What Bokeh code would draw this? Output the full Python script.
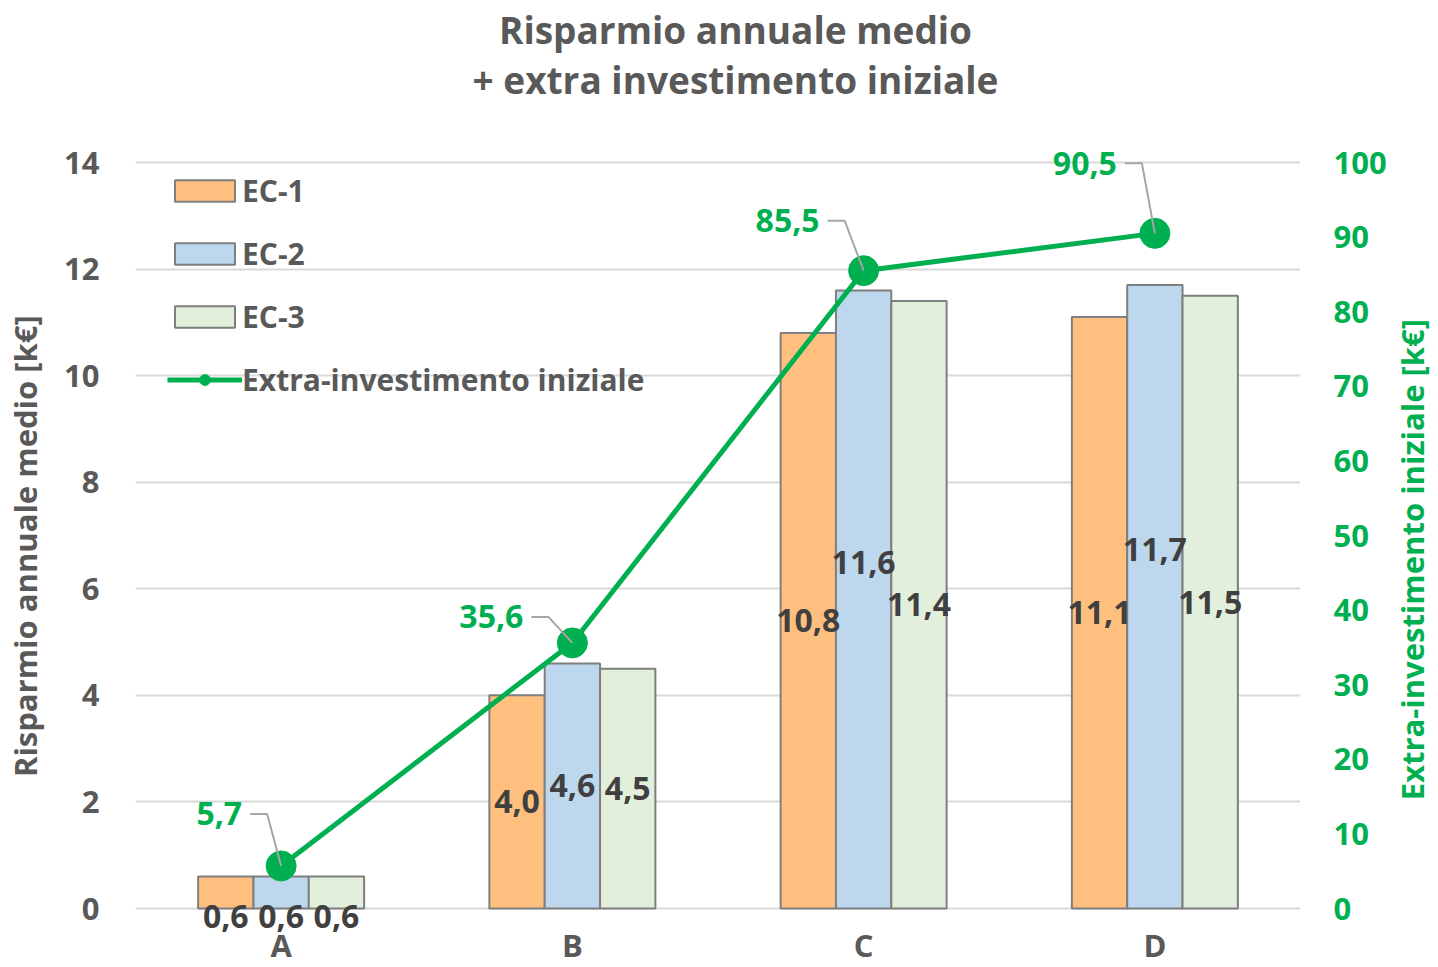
import math
from bokeh.plotting import figure
from bokeh.models import (Range1d, LinearAxis, FixedTicker, Legend, LegendItem,
                          Label, LabelSet, ColumnDataSource)
from bokeh.core.properties import value
from bokeh.embed import file_html
from bokeh.resources import INLINE

# ---------------- data ----------------
categories = ["A", "B", "C", "D"]
series_names = ["EC-1", "EC-2", "EC-3"]
ec1 = [0.6, 4.0, 10.8, 11.1]
ec2 = [0.6, 4.6, 11.6, 11.7]
ec3 = [0.6, 4.5, 11.4, 11.5]
extra = [5.7, 35.6, 85.5, 90.5]
line_name = "Extra-investimento iniziale"
left_ticks = [0, 2, 4, 6, 8, 10, 12, 14]
right_ticks = [0, 10, 20, 30, 40, 50, 60, 70, 80, 90, 100]
title_lines = ["Risparmio annuale medio", "+ extra investimento iniziale"]
left_title = "Risparmio annuale medio [k€]"
right_title = "Extra-investimento iniziale [k€]"

# ---------------- style / layout ----------------
FONT = "Open Sans"
GRAY = "#595959"
DARK = "#404040"
GREEN = "#00B050"
bar_colors = ["#FFBF7F", "#BDD7EE", "#E2EFDA"]
OUTLINE = "#7F7F7F"

W, H = 1438, 966
PLOT_L, PLOT_R = 135, 1300        # value area, page px
PLOT_T, PLOT_B = 162, 908
LEFT_MAX, RIGHT_MAX = 14.0, 100.0
FW = PLOT_R - PLOT_L
PXU = (PLOT_B - PLOT_T) / LEFT_MAX           # px per left unit
RATIO = RIGHT_MAX / LEFT_MAX                 # right units per left unit
X_MAX = float(len(categories))
PXX = FW / X_MAX


def px2x(px):
    return (px - PLOT_L) / PXX


def py2yl(py):
    return (PLOT_B - py) / PXU


def fmt(v):
    return f"{v:.1f}".replace(".", ",")


y_lo, y_hi = py2yl(H), py2yl(0)
p = figure(frame_width=FW, frame_height=H,
           x_range=Range1d(0, X_MAX), y_range=Range1d(y_lo, y_hi),
           output_backend="svg", toolbar_location=None,
           min_border=0, min_border_left=PLOT_L, min_border_top=0,
           min_border_right=W - PLOT_R, min_border_bottom=0)
p.extra_y_ranges = {"right": Range1d(y_lo * RATIO, y_hi * RATIO)}
p.outline_line_color = None
p.background_fill_color = "white"
p.border_fill_color = "white"

# grid
p.xgrid.grid_line_color = None
p.ygrid.ticker = FixedTicker(ticks=left_ticks)
p.ygrid.grid_line_color = "#D9D9D9"
p.ygrid.grid_line_width = 2


def style_axis(ax, color, size, standoff):
    ax.axis_line_color = None
    ax.major_tick_line_color = None
    ax.minor_tick_line_color = None
    ax.major_label_text_font = FONT
    ax.major_label_text_font_size = size
    ax.major_label_text_font_style = "bold"
    ax.major_label_text_color = color
    ax.major_label_standoff = standoff


# axes
p.xaxis.visible = False
ya = p.yaxis[0]
ya.ticker = FixedTicker(ticks=left_ticks)
style_axis(ya, GRAY, "31px", 30)

# left axis title: tick-less axis whose single label is the title (centred at 6.8)
left_title_mid = 6.8
lt = LinearAxis(ticker=FixedTicker(ticks=[left_title_mid]),
                major_label_overrides={left_title_mid: left_title},
                major_label_orientation="vertical")
style_axis(lt, GRAY, "31px", 9)
p.add_layout(lt, "left")

ra = LinearAxis(y_range_name="right", ticker=FixedTicker(ticks=right_ticks))
style_axis(ra, GREEN, "31px", 27)
p.add_layout(ra, "right")

# right axis title: tick-less axis whose single label is the title (starts at 14.5)
right_title_start = 14.5
rt = LinearAxis(y_range_name="right", ticker=FixedTicker(ticks=[right_title_start]),
                major_label_overrides={right_title_start: right_title},
                major_label_orientation=math.pi / 2)
style_axis(rt, GREEN, "31px", 17)
p.add_layout(rt, "right")

# bars
centers = [i + 0.5 for i in range(len(categories))]
BW = 0.19
offsets = [-BW, 0.0, BW]
bar_renderers = []
label_x, label_y, label_t, label_dy = [], [], [], []
# per-bar label nudges (px, up positive) mimicking the reference placement
nudges = [[-24, 0, 0, 0], [-24, 0, 37, 47], [-24, 0, 0, 0]]
for k, vals in enumerate([ec1, ec2, ec3]):
    xs = [c + offsets[k] for c in centers]
    src = ColumnDataSource(dict(x=xs, top=vals))
    r = p.vbar(x="x", top="top", width=BW, bottom=0, source=src,
               fill_color=bar_colors[k], line_color=OUTLINE, line_width=2)
    bar_renderers.append(r)
    for i, v in enumerate(vals):
        label_x.append(xs[i])
        label_y.append(v / 2)
        label_t.append(fmt(v))
        label_dy.append(nudges[k][i])

# line
line_src = ColumnDataSource(dict(x=centers, y=extra))
lr = p.line("x", "y", source=line_src, y_range_name="right",
            line_color=GREEN, line_width=5)
sr = p.scatter("x", "y", source=line_src, y_range_name="right",
               size=30, fill_color=GREEN, line_color=GREEN)

# leader lines + line labels (offsets in px)
lab_dx = [-14, -24, -19, -13]   # elbow x offset
lab_dy = [52, 26, 50, 70]       # elbow y offset (up)
kx = 1.0 / PXX
ky = RATIO / PXU
lx, ly = [], []
tx, ty, tt = [], [], []
for i, c in enumerate(centers):
    ex = c + lab_dx[i] * kx
    ey = extra[i] + lab_dy[i] * ky
    lx.append([ex - 17 * kx, ex, c])
    ly.append([ey, ey, extra[i]])
    tx.append(ex - 25 * kx)
    ty.append(ey)
    tt.append(fmt(extra[i]))
p.multi_line(lx, ly, y_range_name="right", line_color="#A6A6A6", line_width=2)

line_lab_src = ColumnDataSource(dict(x=tx, y=ty, t=tt))
p.add_layout(LabelSet(x="x", y="y", text="t", source=line_lab_src,
                      y_range_name="right", text_align="right",
                      text_baseline="middle", text_font=value(FONT),
                      text_font_size="32px", text_font_style="bold",
                      text_color=GREEN))

bar_lab_src = ColumnDataSource(dict(x=label_x, y=label_y, t=label_t, dy=label_dy))
p.add_layout(LabelSet(x="x", y="y", text="t", source=bar_lab_src,
                      y_offset="dy", text_align="center",
                      text_baseline="middle", text_font=value(FONT),
                      text_font_size="32px", text_font_style="bold",
                      text_color=DARK))

# category labels
cat_src = ColumnDataSource(dict(x=centers, y=[py2yl(956)] * len(centers), t=categories))
p.add_layout(LabelSet(x="x", y="y", text="t", source=cat_src, text_align="center",
                      text_baseline="alphabetic", text_font=value(FONT),
                      text_font_size="31px", text_font_style="bold",
                      text_color=GRAY))

# chart title (two lines)
for txt, py in zip(title_lines, [29, 79]):
    p.add_layout(Label(x=px2x(735), y=py2yl(py), text=txt,
                       text_align="center", text_baseline="middle", text_font=FONT,
                       text_font_size="37px", text_font_style="bold",
                       text_color=GRAY))

# legend
items = [LegendItem(label=n, renderers=[r]) for n, r in zip(series_names, bar_renderers)]
items.append(LegendItem(label=line_name, renderers=[lr, sr]))
legend = Legend(items=items, location=(22, H - 410), glyph_width=75, glyph_height=27,
                label_text_font=FONT, label_text_font_size="30px",
                label_text_font_style="bold", label_text_color=GRAY,
                label_standoff=0, label_height=41, spacing=22, padding=10,
                margin=0, border_line_alpha=0, background_fill_alpha=0)
p.add_layout(legend)

open("out.html", "w").write(file_html(p, INLINE))
